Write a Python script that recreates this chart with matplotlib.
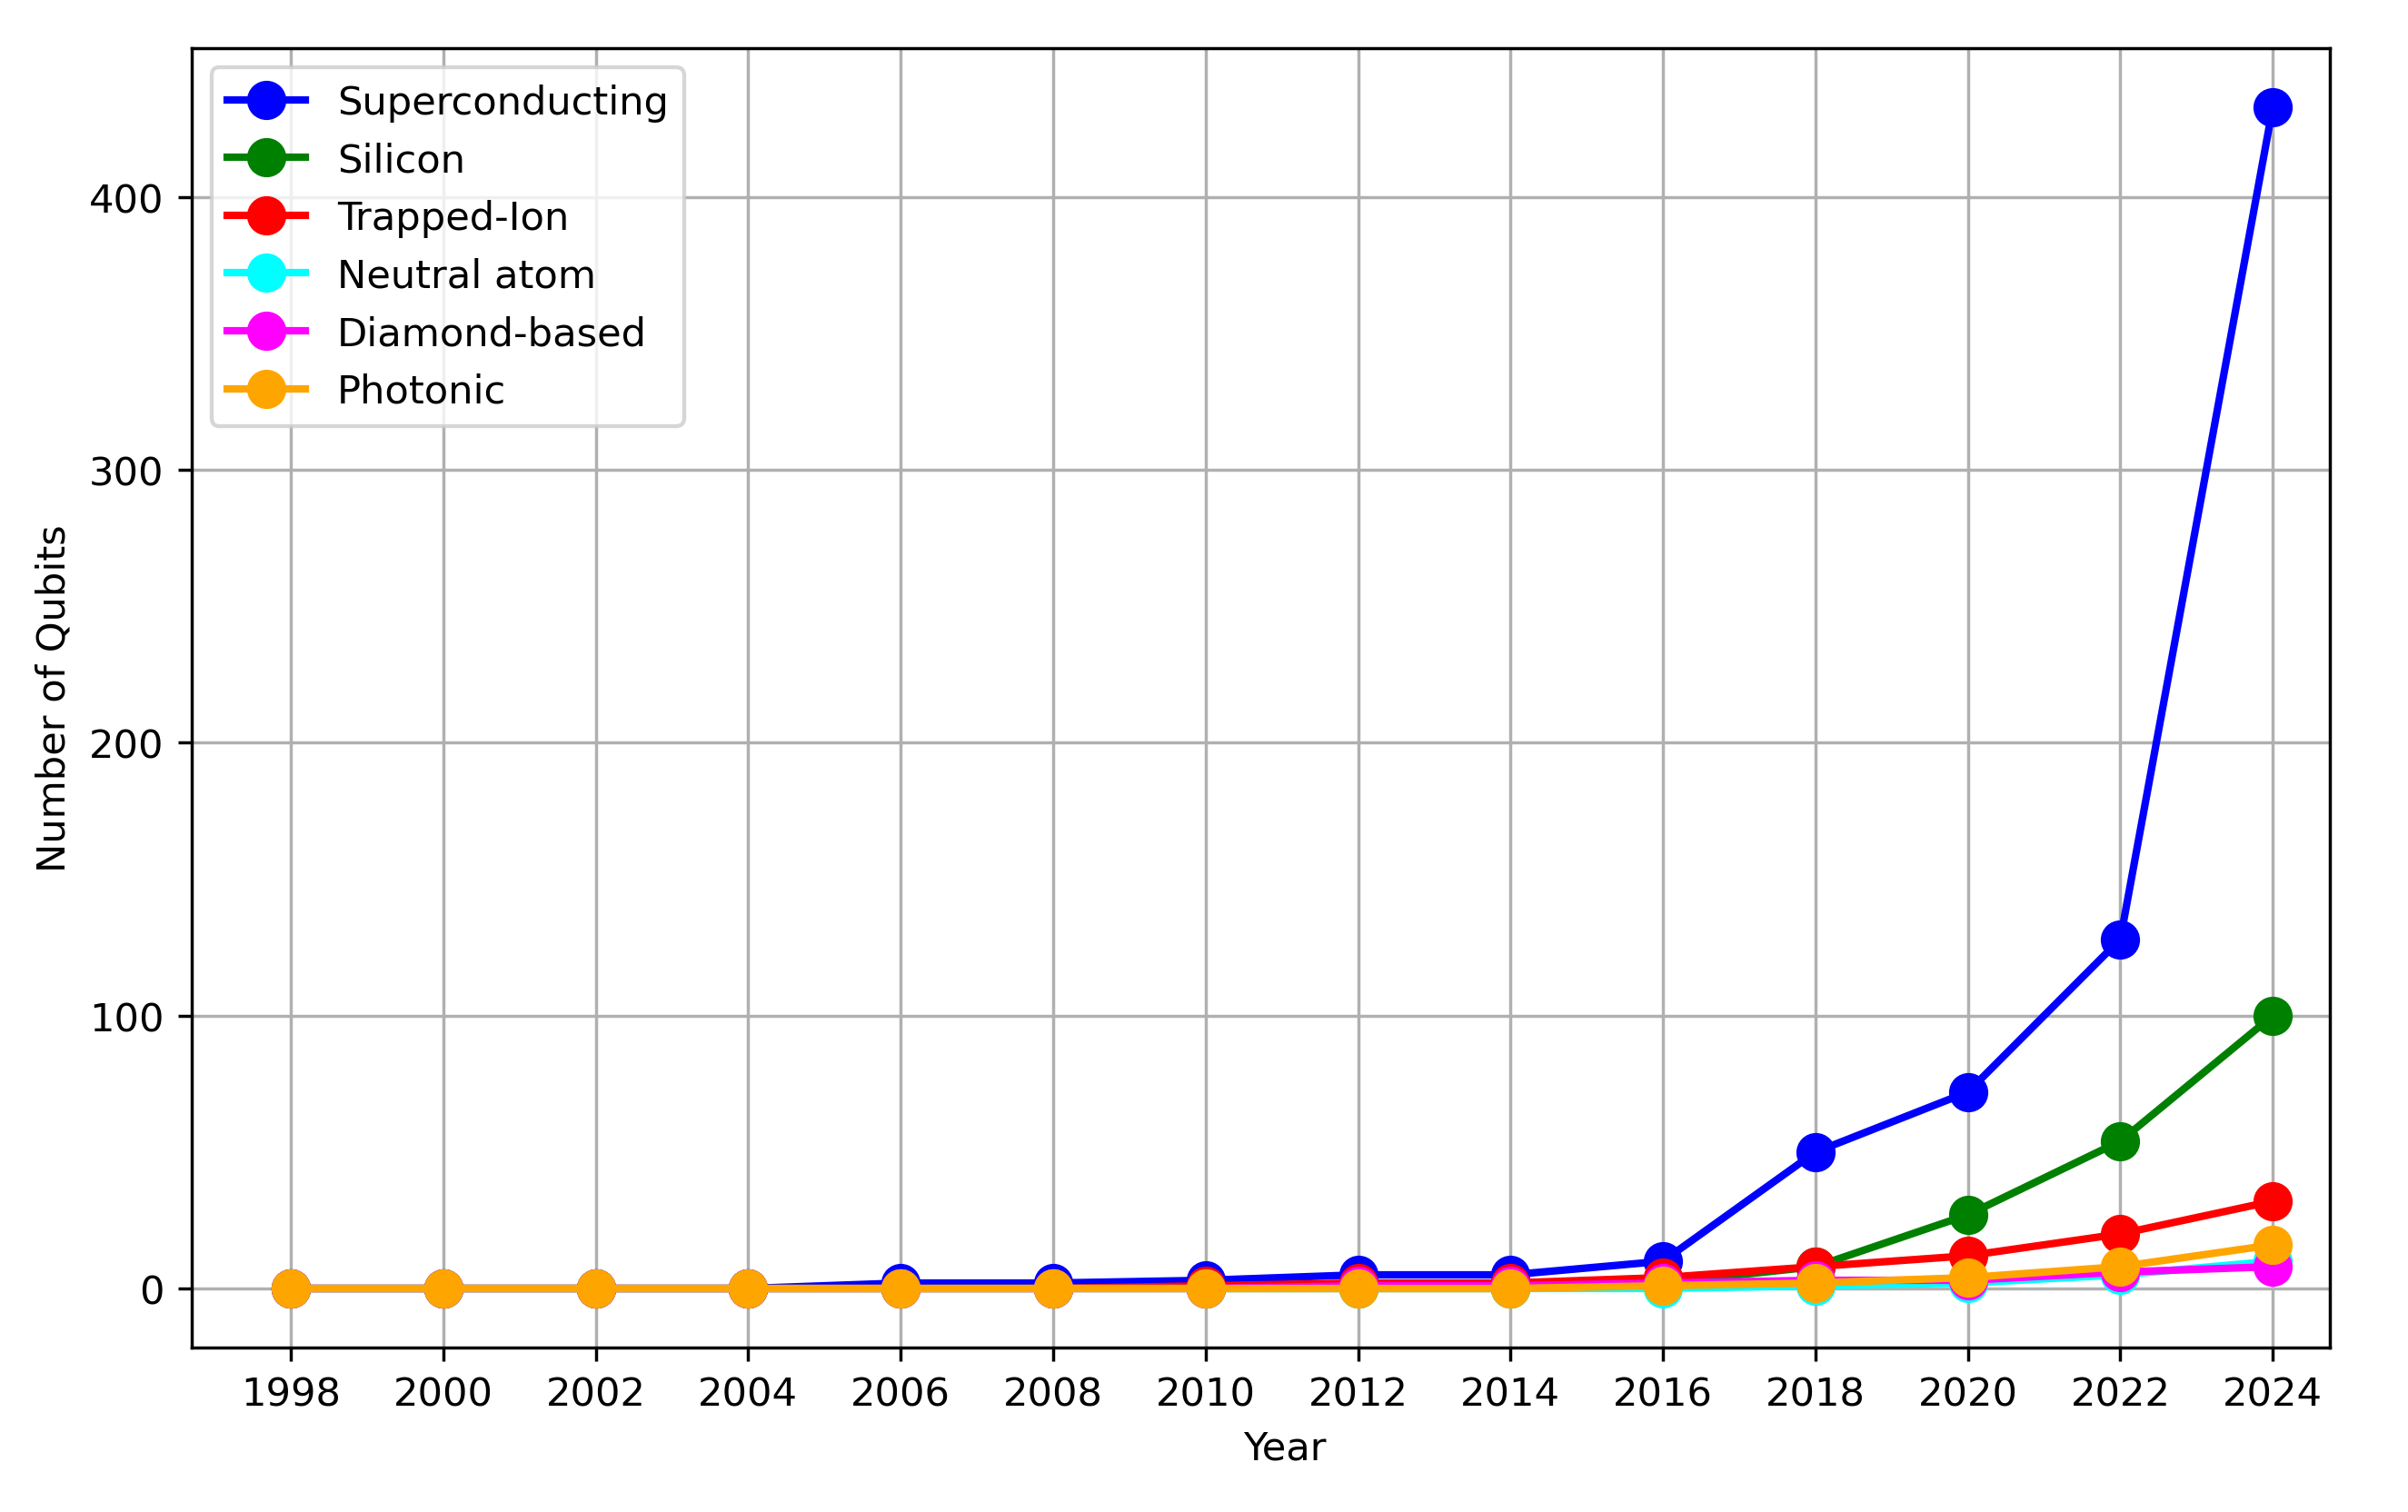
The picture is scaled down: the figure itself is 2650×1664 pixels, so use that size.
import matplotlib
matplotlib.use("Agg")
import matplotlib.pyplot as plt

# Dados
anos = [1998, 2000, 2002, 2004, 2006, 2008, 2010, 2012, 2014, 2016, 2018, 2020, 2022, 2024]

superconducting = [0, 0, 0, 0, 2, 2, 3, 5, 5, 10, 50, 72, 128, 433]
silicon = [0, 0, 0, 0, 0, 0, 0, 0, 0, 2, 8, 27, 54, 100]
trapped_ion = [0, 0, 0, 0, 0, 0, 1, 2, 2, 4, 8, 12, 20, 32]
neutral_atom = [0, 0, 0, 0, 0, 0, 0, 0, 0, 0, 1, 2, 5, 10]
diamond = [0, 0, 0, 0, 0, 0, 0, 1, 1, 2, 3, 3, 6, 8]
photonic = [0, 0, 0, 0, 0, 0, 0, 0, 0, 1, 2, 4, 8, 16]

series = [
    ("Superconducting", superconducting, "blue"),
    ("Silicon", silicon, "green"),
    ("Trapped-Ion", trapped_ion, "red"),
    ("Neutral atom", neutral_atom, "cyan"),
    ("Diamond-based", diamond, "magenta"),
    ("Photonic", photonic, "orange"),
]

DPI = 311
fig = plt.figure(figsize=(2650 / DPI, 1665 / DPI), dpi=DPI)
ax = fig.add_axes([0.0796, 0.1087, 0.888, 0.859])

for nome, valores, cor in series:
    ax.plot(anos, valores, marker="o", markersize=9, linewidth=1.9, color=cor, label=nome)

ax.set_xticks(anos)
ax.set_xlim(1996.7, 2024.75)
ax.set_xlabel("Year", x=0.511)
ax.set_ylabel("Number of Qubits")
ax.grid(True, color="#b0b0b0", linewidth=0.8)
ax.legend(loc="upper left")

fig.savefig("out.png", dpi=DPI)
